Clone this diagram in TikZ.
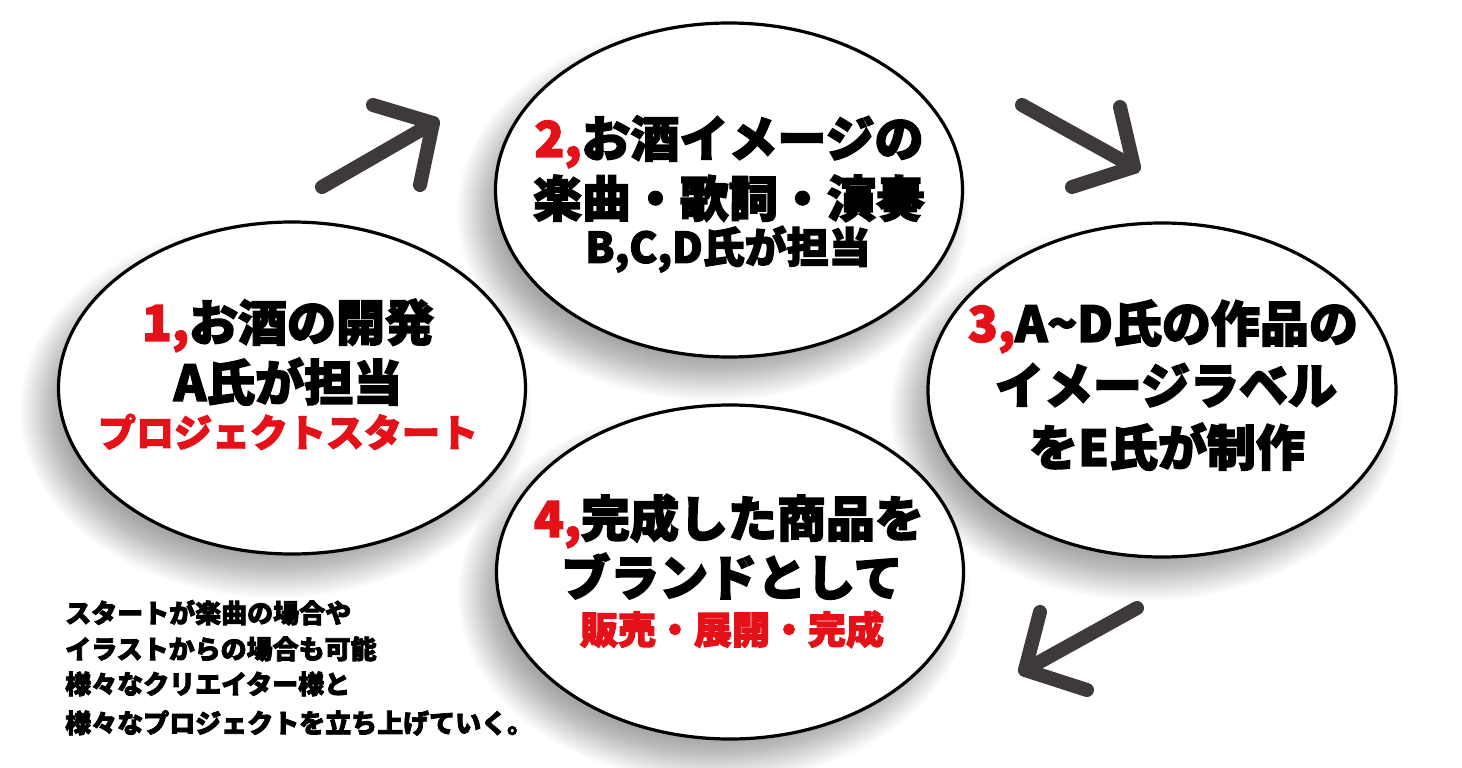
\documentclass[tikz,border=0pt]{standalone}
\usepackage{fontspec}
\setmainfont{Noto Sans CJK JP}[BoldFeatures={FakeBold=3}]
\usetikzlibrary{shapes.geometric}
\definecolor{hred}{RGB}{228,18,24}
\definecolor{arrowgray}{RGB}{62,58,57}
\begin{document}
\begin{tikzpicture}[x=1pt,y=-1pt,
  bubble/.style={ellipse, draw=black, line width=3.2pt, fill=white, inner sep=0pt},
  shadelayer/.style={fill=black, opacity=0.014},
  txt/.style={inner sep=0pt, text height=0.88em, text depth=0.12em},
  big/.style={txt, font=\fontsize{49}{49}\selectfont\bfseries},
  mid/.style={txt, font=\fontsize{38}{38}\selectfont\bfseries, text=hred},
  midb/.style={txt, font=\fontsize{42}{42}\selectfont\bfseries},
  arr/.style={draw=arrowgray, line width=14pt, line cap=round, line join=round},
  note/.style={txt, anchor=west, font=\fontsize{26}{26}\selectfont\bfseries}
]
\useasboundingbox (0,0) rectangle (1462,768);
\fill[white] (0,0) rectangle (1462,768);

% soft shadows (offset down-left)
\foreach \cx/\cy/\rx/\ry in {292/388/234/166, 729/190/234/167, 1162/390/234/167, 730/572/234/167}{
  \foreach \i in {0,...,23}{
    \fill[shadelayer] (\cx-16,\cy+22) ellipse [x radius={(\rx+22-1.9*\i)*1pt}, y radius={(\ry+22-1.9*\i)*1pt}];
  }
}

% bubbles
\node[bubble, minimum width=467pt, minimum height=332pt] (e1) at (292,388) {};
\node[bubble, minimum width=467pt, minimum height=334pt] (e2) at (729,190) {};
\node[bubble, minimum width=468pt, minimum height=334pt] (e3) at (1162,390) {};
\node[bubble, minimum width=467pt, minimum height=334pt] (e4) at (730,572) {};

% texts of bubble 1
\node[big] (t1a) at (288,337) {\textcolor{hred}{1,}お酒の開発};
\node[big] (t1b) at (288,397) {A氏が担当};
\node[mid] (t1c) at (288,443) {プロジェクトスタート};

% texts of bubble 2
\node[big] (t2a) at (729,153) {\textcolor{hred}{2,}お酒イメージの};
\node[big] (t2b) at (729,213) {楽曲・歌詞・演奏};
\node[midb] (t2c) at (728,259) {B,C,D氏が担当};

% texts of bubble 3
\node[big] (t3a) at (1163,338) {\textcolor{hred}{3,}A\textasciitilde D氏の作品の};
\node[big] (t3b) at (1166,400) {イメージラベル};
\node[big] (t3c) at (1167,462) {をE氏が制作};

% texts of bubble 4
\node[big] (t4a) at (729,533) {\textcolor{hred}{4,}完成した商品を};
\node[big] (t4b) at (732,592) {ブランドとして};
\node[mid] (t4c) at (732,640) {販売・展開・完成};

% note
\node[note] (n1) at (65,619) {スタートが楽曲の場合や};
\node[note] (n2) at (65,655) {イラストからの場合も可能};
\node[note] (n3) at (65,690) {様々なクリエイター様と};
\node[note] (n4) at (65,729) {様々なプロジェクトを立ち上げていく。};

% arrows
\coordinate (a1s) at (322,187);
\coordinate (a1t) at (433,123);
\coordinate (a1l) at (373,105);
\coordinate (a1r) at (420,185);
\draw[arr] (a1s) -- (a1t);
\draw[arr] (a1l) -- (a1t) -- (a1r);

\coordinate (a2s) at (1022,105);
\coordinate (a2t) at (1134,167);
\coordinate (a2l) at (1120,107);
\coordinate (a2r) at (1072,187);
\draw[arr] (a2s) -- (a2t);
\draw[arr] (a2l) -- (a2t) -- (a2r);

\coordinate (a3s) at (1137,608);
\coordinate (a3t) at (1025,670);
\coordinate (a3l) at (1040,612);
\coordinate (a3r) at (1087,690);
\draw[arr] (a3s) -- (a3t);
\draw[arr] (a3l) -- (a3t) -- (a3r);
\end{tikzpicture}
\end{document}
